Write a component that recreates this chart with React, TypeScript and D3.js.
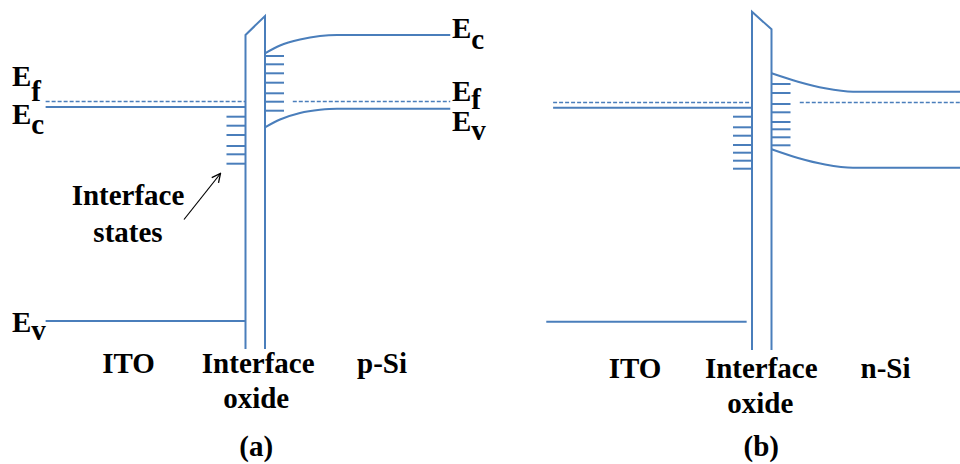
import React from 'react';
import * as d3 from 'd3';

const width = 960;
const height = 464;
const blue = '#4a7ebb';
const font = "'Liberation Serif', 'Times New Roman', Times, serif";

// positions in nm (oxide spans 0..2), energies in eV relative to Ef
const PANEL_NAMES = ['(a)', '(b)'];
const SI_NAMES = ['p-Si', 'n-Si'];
const ITO_START = [-20.5, -20.4];
const ITO_EV_START = [-20.5, -21.1];
const ITO_EV_END = [0, -0.55];
const SI_END = [21, 21.5];
const SI_EF_START = [4.85, 4.9];
const OXIDE = [0, 2];

const ITO_EF = [0, -0.01];
const ITO_EC = [-0.055, -0.062];
const ITO_EV = [-2.195, -2.202];
const SI_EF = [0, -0.01];
const OXIDE_TOP_LEFT = [0.665, 0.898];
const OXIDE_TOP_RIGHT = [0.855, 0.722];
const OXIDE_BOTTOM = [-2.475, -2.485];

const ITO_STATES_A = [-0.152, -0.242, -0.335, -0.445, -0.528, -0.622];
const ITO_STATES_B = [-0.152, -0.258, -0.342, -0.435, -0.512, -0.592, -0.672];
const SI_STATES_A = [0.455, 0.372, 0.282, 0.188, 0.082, -0.002, -0.092];
const SI_STATES_B = [0.175, 0.085, -0.025, -0.108, -0.205, -0.278, -0.358, -0.438];
const STATE_LEN = 1.95;

const SI_EC_A: [number, number][] = [[2, 0.482], [3.54, 0.56], [5.59, 0.62], [7.64, 0.655], [9.38, 0.665], [21, 0.665]];
const SI_EV_A: [number, number][] = [[2, -0.258], [3.54, -0.18], [5.59, -0.115], [7.64, -0.083], [9.38, -0.072], [21, -0.072]];
const SI_EC_B: [number, number][] = [[2, 0.282], [4.72, 0.198], [7.49, 0.132], [10.36, 0.098], [21.5, 0.098]];
const SI_EV_B: [number, number][] = [[2, -0.478], [4.72, -0.565], [7.49, -0.63], [10.36, -0.662], [21.5, -0.662]];

const ITO_STATES = [ITO_STATES_A, ITO_STATES_B];
const SI_STATES = [SI_STATES_A, SI_STATES_B];
const SI_EC = [SI_EC_A, SI_EC_B];
const SI_EV = [SI_EV_A, SI_EV_B];

const OXIDE_PX = [[245.5, 265], [752, 771.5]];
const LABEL_Y = [373, 378];
const OXIDE_LABEL_Y = [408, 413];

const y = d3.scaleLinear().domain([0, -1]).range([101.5, 201.5]);

const txt: React.CSSProperties = { fontFamily: font, fontWeight: 'bold', fontSize: 29, fill: '#000' };

function Panel({ i }: { i: number }) {
  const x = d3.scaleLinear().domain(OXIDE).range(OXIDE_PX[i]);
  const line = d3.line<[number, number]>()
    .x(d => x(d[0]))
    .y(d => y(d[1]))
    .curve(d3.curveMonotoneX);
  const oxidePath = `M${x(0)},${y(OXIDE_BOTTOM[i])}L${x(0)},${y(OXIDE_TOP_LEFT[i])}L${x(2)},${y(OXIDE_TOP_RIGHT[i])}L${x(2)},${y(OXIDE_BOTTOM[i])}`;
  return (
    <g>
      <g stroke={blue} strokeWidth={2} fill="none">
        <path d={oxidePath} strokeLinejoin="miter" />
        <line x1={x(ITO_START[i])} x2={x(0)} y1={y(ITO_EC[i])} y2={y(ITO_EC[i])} />
        <line x1={x(ITO_START[i])} x2={x(0)} y1={y(ITO_EF[i])} y2={y(ITO_EF[i])} strokeDasharray="4 2" strokeWidth={1.6} />
        <line x1={x(ITO_EV_START[i])} x2={x(ITO_EV_END[i])} y1={y(ITO_EV[i])} y2={y(ITO_EV[i])} />
        <line x1={x(SI_EF_START[i])} x2={x(SI_END[i])} y1={y(SI_EF[i])} y2={y(SI_EF[i])} strokeDasharray="4 2" strokeWidth={1.6} />
        {ITO_STATES[i].map((e, k) => (
          <line key={'it' + k} x1={x(-STATE_LEN)} x2={x(0)} y1={y(e)} y2={y(e)} />
        ))}
        {SI_STATES[i].map((e, k) => (
          <line key={'si' + k} x1={x(2)} x2={x(2 + STATE_LEN)} y1={y(e)} y2={y(e)} />
        ))}
        <path d={line(SI_EC[i]) || ''} />
        <path d={line(SI_EV[i]) || ''} />
      </g>
      <g style={txt} textAnchor="middle">
        <text x={x(-12)} y={LABEL_Y[i]}>ITO</text>
        <text x={x(i === 0 ? 1.3 : 0.95)} y={LABEL_Y[i]}>Interface</text>
        <text x={x(i === 0 ? 1.1 : 0.85)} y={OXIDE_LABEL_Y[i]}>oxide</text>
        <text x={x(i === 0 ? 14 : 13.7)} y={LABEL_Y[i]}>{SI_NAMES[i]}</text>
        <text x={x(i === 0 ? 1.1 : 0.95)} y={456}>{PANEL_NAMES[i]}</text>
      </g>
    </g>
  );
}

function Level({ x0, base, sub, dy }: { x0: number; base: number; sub: string; dy: number }) {
  return (
    <text x={x0} y={base} style={txt}>
      E<tspan dy={dy}>{sub}</tspan>
    </text>
  );
}

export default function App() {
  return (
    <svg width={width} height={height} style={{ position: 'absolute', left: 0, top: 0, background: '#fff' }}>
      <defs>
        <marker id="arr" viewBox="0 0 10 10" refX="9" refY="5" markerWidth="9" markerHeight="9" orient="auto">
          <path d="M1,1L9,5L1,9" fill="none" stroke="#000" strokeWidth={1.2} />
        </marker>
      </defs>
      <Panel i={0} />
      <Panel i={1} />
      <Level x0={12} base={86} sub="f" dy={15} />
      <Level x0={12} base={124} sub="c" dy={10} />
      <Level x0={12} base={332} sub="v" dy={8} />
      <Level x0={452} base={38} sub="c" dy={11} />
      <Level x0={452} base={101} sub="f" dy={8} />
      <Level x0={452} base={131} sub="v" dy={9} />
      <g style={txt} textAnchor="middle">
        <text x={128} y={205}>Interface</text>
        <text x={128} y={242}>states</text>
      </g>
      <line x1={184} y1={219.5} x2={220.5} y2={173.5} stroke="#000" strokeWidth={1.2} markerEnd="url(#arr)" />
    </svg>
  );
}
